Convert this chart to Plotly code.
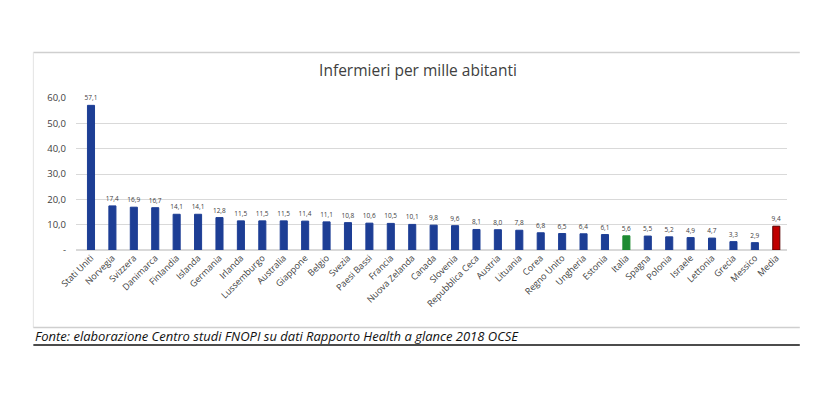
import plotly.graph_objects as go

paesi = [
    'Stati Uniti', 'Norvegia', 'Svizzera', 'Danimarca', 'Finlandia', 'Islanda',
    'Germania', 'Irlanda', 'Lussemburgo', 'Australia', 'Giappone', 'Belgio',
    'Svezia', 'Paesi Bassi', 'Francia', 'Nuova Zelanda', 'Canada', 'Slovenia',
    'Repubblica Ceca', 'Austria', 'Lituania', 'Corea', 'Regno Unito', 'Ungheria',
    'Estonia', 'Italia', 'Spagna', 'Polonia', 'Israele', 'Lettonia', 'Grecia',
    'Messico', 'Media'
]
infermieri = [
    57.1, 17.4, 16.9, 16.7, 14.1, 14.1, 12.8, 11.5, 11.5, 11.5, 11.4, 11.1,
    10.8, 10.6, 10.5, 10.1, 9.8, 9.6, 8.1, 8.0, 7.8, 6.8, 6.5, 6.4, 6.1, 5.6,
    5.5, 5.2, 4.9, 4.7, 3.3, 2.9, 9.4
]
tick_vals = [0, 10, 20, 30, 40, 50, 60]
tick_text = ['-', '10,0', '20,0', '30,0', '40,0', '50,0', '60,0']

BLU = '#1d3e95'
colori = []
bordi = []
for p in paesi:
    if p == 'Italia':
        colori.append('#1e8b32')
        bordi.append('#1e8b32')
    elif p == 'Media':
        colori.append('#c00000')
        bordi.append('#5a0000')
    else:
        colori.append(BLU)
        bordi.append(BLU)

etichette = [f'{v:.1f}'.replace('.', ',') for v in infermieri]

fig = go.Figure(go.Bar(
    x=paesi,
    y=infermieri,
    width=0.33,
    marker={'color': colori, 'line': {'color': bordi, 'width': 1}},
    text=etichette,
    textposition='outside',
    constraintext='none',
    textfont={'size': 6.5, 'color': '#404040', 'family': 'Open Sans'},
    cliponaxis=False,
))

# la pagina html aggiunge 8px di margine al body
fig.update_layout(
    width=820,
    height=402,
    margin={'t': 90, 'b': 160, 'l': 68, 'r': 41},
    paper_bgcolor='white',
    plot_bgcolor='white',
    showlegend=False,
    title={
        'text': 'Infermieri per mille abitanti',
        'x': 0.5, 'xanchor': 'center',
        'y': 0.845, 'yanchor': 'middle',
        'font': {'size': 15.5, 'color': '#404040', 'family': 'Open Sans'},
    },
    xaxis={
        'range': [-0.7, 32.5],
        'tickangle': -45,
        'tickfont': {'size': 9, 'color': '#404040', 'family': 'Open Sans'},
        'showgrid': False,
        'showline': False,
        'ticks': '',
    },
    yaxis={
        'range': [0, 60],
        'tickvals': tick_vals,
        'ticktext': tick_text,
        'tickfont': {'size': 9.5, 'color': '#404040', 'family': 'Open Sans'},
        'gridcolor': '#d9d9d9',
        'gridwidth': 1,
        'zeroline': True,
        'zerolinecolor': '#d9d9d9',
        'ticklabelstandoff': 9,
    },
    shapes=[
        # cornice del grafico
        {'type': 'line', 'xref': 'paper', 'yref': 'paper',
         'x0': -0.06, 'x1': 1.018, 'y0': 1.30, 'y1': 1.30,
         'line': {'color': '#cfcfcf', 'width': 1.5}},
        {'type': 'line', 'xref': 'paper', 'yref': 'paper',
         'x0': -0.06, 'x1': -0.06, 'y0': 1.30, 'y1': -0.51,
         'line': {'color': '#e3e3e3', 'width': 1}},
        {'type': 'line', 'xref': 'paper', 'yref': 'paper',
         'x0': -0.06, 'x1': 1.018, 'y0': -0.51, 'y1': -0.51,
         'line': {'color': '#cfcfcf', 'width': 1.5}},
        {'type': 'line', 'xref': 'paper', 'yref': 'paper',
         'x0': -0.06, 'x1': 1.018, 'y0': -0.625, 'y1': -0.625,
         'line': {'color': '#111111', 'width': 1.5}},
    ],
    annotations=[{
        'text': '<i>Fonte: elaborazione Centro studi FNOPI su dati Rapporto Health a glance 2018 OCSE</i>',
        'xref': 'paper', 'yref': 'paper',
        'x': -0.06, 'y': -0.565,
        'xanchor': 'left', 'yanchor': 'middle',
        'showarrow': False,
        'font': {'size': 13, 'color': '#111111', 'family': 'Open Sans'},
    }],
)

fig.write_html('out.html')
